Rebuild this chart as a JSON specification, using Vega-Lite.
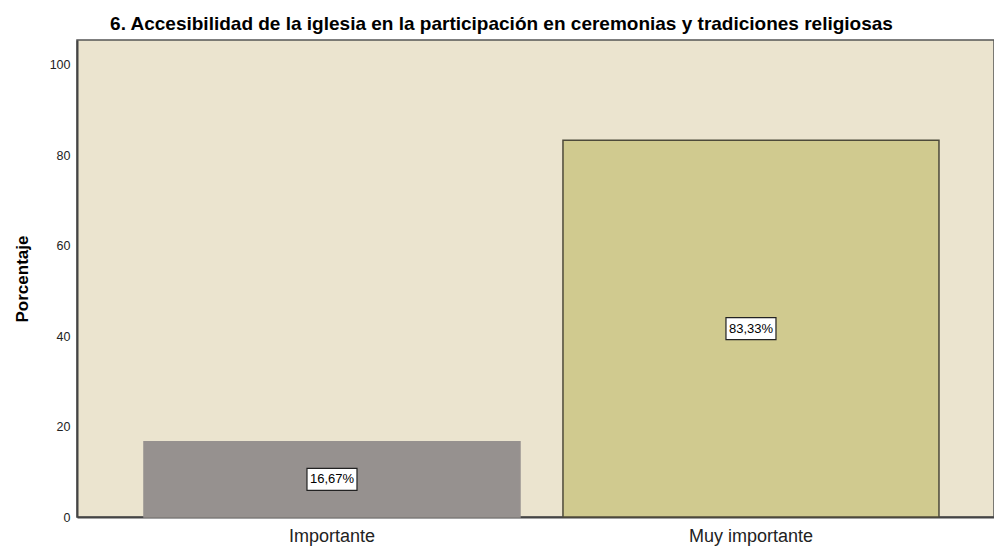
{
  "$schema": "https://vega.github.io/schema/vega-lite/v6.json",
  "width": 917,
  "height": 477,
  "autosize": {"type": "none"},
  "padding": {"left": 77, "top": 40, "right": 0, "bottom": 30},
  "background": "white",
  "title": {
    "text": "6. Accesibilidad de la iglesia en la participación en ceremonias y tradiciones religiosas",
    "font": "Liberation Sans",
    "fontSize": 19,
    "fontWeight": "bold",
    "color": "#000000",
    "anchor": "middle",
    "dx": -34,
    "offset": 6
  },
  "config": {
    "view": {"fill": "#ebe4cf", "stroke": "#555555", "strokeWidth": 1.5},
    "font": "Liberation Sans"
  },
  "data": {
    "values": [
      {"categoria": "Importante", "porcentaje": 16.67, "etiqueta": "16,67%", "mitad": 8.335},
      {"categoria": "Muy importante", "porcentaje": 83.33, "etiqueta": "83,33%", "mitad": 41.665}
    ]
  },
  "encoding": {
    "x": {
      "field": "categoria",
      "type": "nominal",
      "sort": null,
      "scale": {"paddingInner": 0.1026, "paddingOuter": 0.1456, "align": 0.549},
      "axis": {
        "title": null,
        "labelAngle": 0,
        "labelFontSize": 18,
        "labelColor": "#222222",
        "labelPadding": 10,
        "ticks": false,
        "domainColor": "#444444",
        "domainWidth": 2
      }
    }
  },
  "layer": [
    {
      "mark": {"type": "bar", "strokeWidth": 1.5},
      "encoding": {
        "y": {
          "field": "porcentaje",
          "type": "quantitative",
          "scale": {"domain": [0, 105.5], "nice": false},
          "axis": {
            "title": "Porcentaje",
            "titleFontSize": 17,
            "titleFontWeight": "bold",
            "titleColor": "#000000",
            "titlePadding": 18,
            "values": [0, 20, 40, 60, 80, 100],
            "labelFontSize": 12.5,
            "labelColor": "#222222",
            "labelPadding": 7,
            "ticks": false,
            "grid": false,
            "domainColor": "#444444",
            "domainWidth": 2
          }
        },
        "fill": {
          "field": "categoria",
          "type": "nominal",
          "scale": {"domain": ["Importante", "Muy importante"], "range": ["#96918f", "#d0ca8f"]},
          "legend": null
        },
        "stroke": {
          "field": "categoria",
          "type": "nominal",
          "scale": {"domain": ["Importante", "Muy importante"], "range": ["#96918f", "#4d4a3a"]},
          "legend": null
        }
      }
    },
    {
      "mark": {
        "type": "point",
        "shape": "M-1,-0.44H1V0.44H-1Z",
        "filled": true,
        "fill": "white",
        "stroke": "#222222",
        "strokeWidth": 1.2,
        "opacity": 1,
        "size": 2500
      },
      "encoding": {
        "y": {"field": "mitad", "type": "quantitative"}
      }
    },
    {
      "mark": {"type": "text", "fontSize": 13, "color": "#000000", "align": "center", "baseline": "middle"},
      "encoding": {
        "y": {"field": "mitad", "type": "quantitative"},
        "text": {"field": "etiqueta"}
      }
    }
  ]
}
